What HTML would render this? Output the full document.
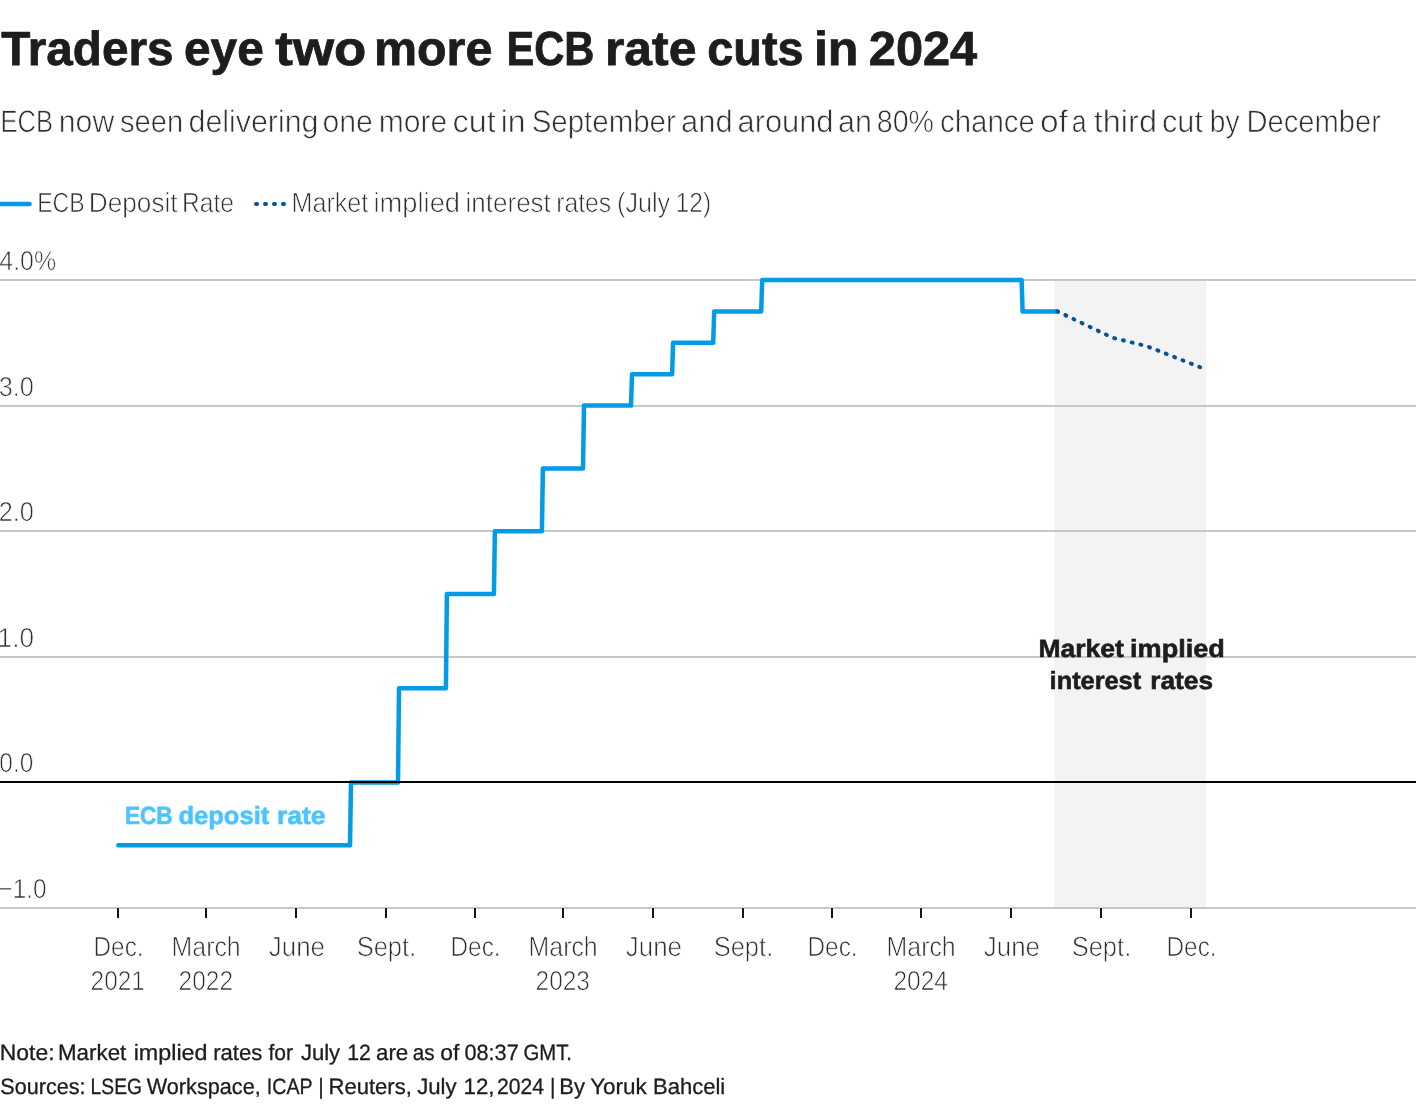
<!DOCTYPE html>
<html lang="en"><head><meta charset="utf-8"><title>Traders eye two more ECB rate cuts in 2024</title>
<style>
html,body{margin:0;padding:0;background:#fff;}
body{width:1420px;height:1108px;overflow:hidden;}
svg{display:block;font-family:"Liberation Sans",sans-serif;text-rendering:geometricPrecision;word-spacing:-0.06em;}
.t{font-weight:700;fill:#1d1d1b;stroke:#1d1d1b;stroke-width:0.8px;}
.tb{font-weight:700;fill:#4bc5ff;stroke:#4bc5ff;stroke-width:0.6px;}
.td{font-weight:700;fill:#1d1d1b;stroke:#1d1d1b;stroke-width:0.6px;}
.sub{fill:#303030;stroke:#fff;stroke-width:0.65px;}
.lt{fill:#2e2e2e;stroke:#fff;stroke-width:0.70px;}
.ft{fill:#1d1d1b;stroke:#1d1d1b;stroke-width:0.3px;}
</style></head><body>
<svg width="1420" height="1108" viewBox="0 0 1420 1108" role="img" aria-label="ECB deposit rate and market implied interest rates">
<rect width="1420" height="1108" fill="#fff"/>
<text y="65.40" font-size="47.90" class="t"><tspan x="1.30" textLength="172.16" lengthAdjust="spacingAndGlyphs">Traders</tspan> <tspan x="184.06" textLength="79.65" lengthAdjust="spacingAndGlyphs">eye</tspan> <tspan x="275.36" textLength="90.90" lengthAdjust="spacingAndGlyphs">two</tspan> <tspan x="373.95" textLength="118.41" lengthAdjust="spacingAndGlyphs">more</tspan> <tspan x="506.40" textLength="87.93" lengthAdjust="spacingAndGlyphs">ECB</tspan> <tspan x="604.93" textLength="91.48" lengthAdjust="spacingAndGlyphs">rate</tspan> <tspan x="707.35" textLength="96.25" lengthAdjust="spacingAndGlyphs">cuts</tspan> <tspan x="813.92" textLength="44.59" lengthAdjust="spacingAndGlyphs">in</tspan> <tspan x="868.79" textLength="108.42" lengthAdjust="spacingAndGlyphs">2024</tspan></text>
<text y="132.30" font-size="31.10" class="sub"><tspan x="0.44" textLength="52.54" lengthAdjust="spacingAndGlyphs">ECB</tspan> <tspan x="58.80" textLength="55.43" lengthAdjust="spacingAndGlyphs">now</tspan> <tspan x="120.00" textLength="63.25" lengthAdjust="spacingAndGlyphs">seen</tspan> <tspan x="188.50" textLength="129.97" lengthAdjust="spacingAndGlyphs">delivering</tspan> <tspan x="322.50" textLength="50.38" lengthAdjust="spacingAndGlyphs">one</tspan> <tspan x="378.82" textLength="68.47" lengthAdjust="spacingAndGlyphs">more</tspan> <tspan x="452.50" textLength="43.24" lengthAdjust="spacingAndGlyphs">cut</tspan> <tspan x="500.75" textLength="24.83" lengthAdjust="spacingAndGlyphs">in</tspan> <tspan x="531.65" textLength="144.20" lengthAdjust="spacingAndGlyphs">September</tspan> <tspan x="681.00" textLength="51.76" lengthAdjust="spacingAndGlyphs">and</tspan> <tspan x="737.50" textLength="95.99" lengthAdjust="spacingAndGlyphs">around</tspan> <tspan x="838.00" textLength="33.82" lengthAdjust="spacingAndGlyphs">an</tspan> <tspan x="876.75" textLength="57.21" lengthAdjust="spacingAndGlyphs">80%</tspan> <tspan x="940.00" textLength="94.86" lengthAdjust="spacingAndGlyphs">chance</tspan> <tspan x="1040.00" textLength="27.93" lengthAdjust="spacingAndGlyphs">of</tspan> <tspan x="1071.75" textLength="14.78" lengthAdjust="spacingAndGlyphs">a</tspan> <tspan x="1093.80" textLength="63.17" lengthAdjust="spacingAndGlyphs">third</tspan> <tspan x="1162.00" textLength="40.92" lengthAdjust="spacingAndGlyphs">cut</tspan> <tspan x="1209.81" textLength="29.70" lengthAdjust="spacingAndGlyphs">by</tspan> <tspan x="1246.50" textLength="134.43" lengthAdjust="spacingAndGlyphs">December</tspan></text>
<line x1="-3" y1="204" x2="29.5" y2="204" stroke="#039be5" stroke-width="4.5" stroke-linecap="round"/>
<text y="211.95" font-size="27.70" class="lt"><tspan x="37.18" textLength="47.40" lengthAdjust="spacingAndGlyphs">ECB</tspan> <tspan x="88.80" textLength="88.85" lengthAdjust="spacingAndGlyphs">Deposit</tspan> <tspan x="182.02" textLength="52.06" lengthAdjust="spacingAndGlyphs">Rate</tspan></text>
<line x1="256.0" y1="204" x2="284.2" y2="204" stroke="#01549a" stroke-width="4" stroke-linecap="round" stroke-dasharray="1 8"/>
<text y="211.95" font-size="27.70" class="lt"><tspan x="291.55" textLength="76.67" lengthAdjust="spacingAndGlyphs">Market</tspan> <tspan x="373.47" textLength="86.55" lengthAdjust="spacingAndGlyphs">implied</tspan> <tspan x="465.59" textLength="85.23" lengthAdjust="spacingAndGlyphs">interest</tspan> <tspan x="556.20" textLength="55.02" lengthAdjust="spacingAndGlyphs">rates</tspan> <tspan x="617.00" textLength="53.19" lengthAdjust="spacingAndGlyphs">(July</tspan> <tspan x="675.56" textLength="35.59" lengthAdjust="spacingAndGlyphs">12)</tspan></text>
<rect x="1054.4" y="280" width="151.6" height="627" fill="#f3f3f3"/>
<rect x="0" y="279" width="1416" height="2" fill="#c7c7c7"/>
<rect x="0" y="405" width="1416" height="2" fill="#c7c7c7"/>
<rect x="0" y="530" width="1416" height="2" fill="#c7c7c7"/>
<rect x="0" y="656" width="1416" height="2" fill="#c7c7c7"/>
<rect x="0" y="907" width="1416" height="2" fill="#c7c7c7"/>
<text x="-0.70" y="270.20" font-size="27.30" class="lt" textLength="56.86" lengthAdjust="spacingAndGlyphs">4.0%</text>
<text x="-1.30" y="396.30" font-size="27.30" class="lt" textLength="35.20" lengthAdjust="spacingAndGlyphs">3.0</text>
<text x="-1.30" y="521.30" font-size="27.30" class="lt" textLength="35.20" lengthAdjust="spacingAndGlyphs">2.0</text>
<text x="-2.39" y="647.30" font-size="27.30" class="lt" textLength="36.35" lengthAdjust="spacingAndGlyphs">1.0</text>
<text x="-0.65" y="772.30" font-size="27.30" class="lt" textLength="34.04" lengthAdjust="spacingAndGlyphs">0.0</text>
<text x="-1.46" y="898.20" font-size="27.30" class="lt" textLength="48.05" lengthAdjust="spacingAndGlyphs">−1.0</text>
<path d="M118.3 845.2 L350.0 845.2 L351.0 782.4 L398.0 782.4 L399.0 688.2 L445.9 688.2 L446.9 594.0 L493.9 594.0 L494.9 531.2 L541.9 531.2 L542.9 468.4 L583.0 468.4 L584.0 405.6 L631.0 405.6 L632.0 374.2 L672.1 374.2 L673.1 342.8 L713.2 342.8 L714.2 311.4 L761.2 311.4 L762.2 280.0 L1021.6 280.0 L1022.6 311.4 L1057.7 311.4" fill="none" stroke="#039be5" stroke-width="4.5" stroke-linejoin="round" stroke-linecap="round"/>
<rect x="0" y="781" width="1416" height="2" fill="#000"/>
<path d="M1057.2 311.3 L1112.5 337.7 L1146.9 346.2 L1200.6 367.4" fill="none" stroke="#01549a" stroke-width="4" stroke-linecap="round" stroke-dasharray="1 8"/>
<text y="823.60" font-size="24.85" class="tb"><tspan x="124.92" textLength="47.63" lengthAdjust="spacingAndGlyphs">ECB</tspan> <tspan x="178.47" textLength="90.78" lengthAdjust="spacingAndGlyphs">deposit</tspan> <tspan x="276.97" textLength="48.65" lengthAdjust="spacingAndGlyphs">rate</tspan></text>
<text y="657.00" font-size="24.85" class="td"><tspan x="1038.46" textLength="85.33" lengthAdjust="spacingAndGlyphs">Market</tspan> <tspan x="1130.10" textLength="94.68" lengthAdjust="spacingAndGlyphs">implied</tspan></text>
<text y="689.00" font-size="24.85" class="td"><tspan x="1049.64" textLength="91.51" lengthAdjust="spacingAndGlyphs">interest</tspan> <tspan x="1150.25" textLength="62.75" lengthAdjust="spacingAndGlyphs">rates</tspan></text>
<rect x="117" y="907" width="2" height="1" fill="#fff" opacity="0.6"/>
<rect x="117" y="908" width="2" height="10" fill="#161616"/>
<text x="93.54" y="956.25" font-size="27.70" class="lt" textLength="50.03" lengthAdjust="spacingAndGlyphs">Dec.</text>
<text x="90.60" y="990.20" font-size="27.30" class="lt" textLength="54.22" lengthAdjust="spacingAndGlyphs">2021</text>
<rect x="205" y="907" width="2" height="1" fill="#fff" opacity="0.6"/>
<rect x="205" y="908" width="2" height="10" fill="#161616"/>
<text x="171.57" y="956.25" font-size="27.70" class="lt" textLength="69.14" lengthAdjust="spacingAndGlyphs">March</text>
<text x="178.60" y="990.20" font-size="27.30" class="lt" textLength="54.40" lengthAdjust="spacingAndGlyphs">2022</text>
<rect x="295" y="907" width="2" height="1" fill="#fff" opacity="0.6"/>
<rect x="295" y="908" width="2" height="10" fill="#161616"/>
<text x="268.81" y="956.25" font-size="27.70" class="lt" textLength="56.18" lengthAdjust="spacingAndGlyphs">June</text>
<rect x="385" y="907" width="2" height="1" fill="#fff" opacity="0.6"/>
<rect x="385" y="908" width="2" height="10" fill="#161616"/>
<text x="356.70" y="956.25" font-size="27.70" class="lt" textLength="59.54" lengthAdjust="spacingAndGlyphs">Sept.</text>
<rect x="474" y="907" width="2" height="1" fill="#fff" opacity="0.6"/>
<rect x="474" y="908" width="2" height="10" fill="#161616"/>
<text x="450.54" y="956.25" font-size="27.70" class="lt" textLength="50.03" lengthAdjust="spacingAndGlyphs">Dec.</text>
<rect x="562" y="907" width="2" height="1" fill="#fff" opacity="0.6"/>
<rect x="562" y="908" width="2" height="10" fill="#161616"/>
<text x="528.57" y="956.25" font-size="27.70" class="lt" textLength="69.14" lengthAdjust="spacingAndGlyphs">March</text>
<text x="535.60" y="990.20" font-size="27.30" class="lt" textLength="54.38" lengthAdjust="spacingAndGlyphs">2023</text>
<rect x="652" y="907" width="2" height="1" fill="#fff" opacity="0.6"/>
<rect x="652" y="908" width="2" height="10" fill="#161616"/>
<text x="625.81" y="956.25" font-size="27.70" class="lt" textLength="56.18" lengthAdjust="spacingAndGlyphs">June</text>
<rect x="742" y="907" width="2" height="1" fill="#fff" opacity="0.6"/>
<rect x="742" y="908" width="2" height="10" fill="#161616"/>
<text x="713.70" y="956.25" font-size="27.70" class="lt" textLength="59.54" lengthAdjust="spacingAndGlyphs">Sept.</text>
<rect x="831" y="907" width="2" height="1" fill="#fff" opacity="0.6"/>
<rect x="831" y="908" width="2" height="10" fill="#161616"/>
<text x="807.54" y="956.25" font-size="27.70" class="lt" textLength="50.03" lengthAdjust="spacingAndGlyphs">Dec.</text>
<rect x="920" y="907" width="2" height="1" fill="#fff" opacity="0.6"/>
<rect x="920" y="908" width="2" height="10" fill="#161616"/>
<text x="886.57" y="956.25" font-size="27.70" class="lt" textLength="69.14" lengthAdjust="spacingAndGlyphs">March</text>
<text x="893.40" y="990.20" font-size="27.30" class="lt" textLength="54.55" lengthAdjust="spacingAndGlyphs">2024</text>
<rect x="1010" y="907" width="2" height="1" fill="#fff" opacity="0.6"/>
<rect x="1010" y="908" width="2" height="10" fill="#161616"/>
<text x="983.81" y="956.25" font-size="27.70" class="lt" textLength="56.18" lengthAdjust="spacingAndGlyphs">June</text>
<rect x="1100" y="907" width="2" height="1" fill="#fff" opacity="0.6"/>
<rect x="1100" y="908" width="2" height="10" fill="#161616"/>
<text x="1071.70" y="956.25" font-size="27.70" class="lt" textLength="59.54" lengthAdjust="spacingAndGlyphs">Sept.</text>
<rect x="1190" y="907" width="2" height="1" fill="#fff" opacity="0.6"/>
<rect x="1190" y="908" width="2" height="10" fill="#161616"/>
<text x="1166.54" y="956.25" font-size="27.70" class="lt" textLength="50.03" lengthAdjust="spacingAndGlyphs">Dec.</text>
<text y="1059.90" font-size="22.15" class="ft"><tspan x="-0.20" textLength="54.73" lengthAdjust="spacingAndGlyphs">Note:</tspan> <tspan x="58.00" textLength="68.31" lengthAdjust="spacingAndGlyphs">Market</tspan> <tspan x="133.65" textLength="73.87" lengthAdjust="spacingAndGlyphs">implied</tspan> <tspan x="213.16" textLength="49.18" lengthAdjust="spacingAndGlyphs">rates</tspan> <tspan x="268.44" textLength="24.53" lengthAdjust="spacingAndGlyphs">for</tspan> <tspan x="300.90" textLength="39.27" lengthAdjust="spacingAndGlyphs">July</tspan> <tspan x="347.35" textLength="23.57" lengthAdjust="spacingAndGlyphs">12</tspan> <tspan x="375.98" textLength="32.37" lengthAdjust="spacingAndGlyphs">are</tspan> <tspan x="412.75" textLength="21.83" lengthAdjust="spacingAndGlyphs">as</tspan> <tspan x="440.25" textLength="19.04" lengthAdjust="spacingAndGlyphs">of</tspan> <tspan x="464.50" textLength="54.21" lengthAdjust="spacingAndGlyphs">08:37</tspan> <tspan x="523.46" textLength="48.55" lengthAdjust="spacingAndGlyphs">GMT.</tspan></text>
<text y="1093.50" font-size="22.15" class="ft"><tspan x="0.33" textLength="85.19" lengthAdjust="spacingAndGlyphs">Sources:</tspan> <tspan x="90.61" textLength="51.36" lengthAdjust="spacingAndGlyphs">LSEG</tspan> <tspan x="146.76" textLength="113.95" lengthAdjust="spacingAndGlyphs">Workspace,</tspan> <tspan x="266.75" textLength="45.49" lengthAdjust="spacingAndGlyphs">ICAP</tspan> <tspan x="318.30" textLength="5.49" lengthAdjust="spacingAndGlyphs">|</tspan> <tspan x="328.50" textLength="83.35" lengthAdjust="spacingAndGlyphs">Reuters,</tspan> <tspan x="417.15" textLength="39.41" lengthAdjust="spacingAndGlyphs">July</tspan> <tspan x="463.53" textLength="31.05" lengthAdjust="spacingAndGlyphs">12,</tspan> <tspan x="496.96" textLength="47.02" lengthAdjust="spacingAndGlyphs">2024</tspan> <tspan x="550.00" textLength="5.49" lengthAdjust="spacingAndGlyphs">|</tspan> <tspan x="559.25" textLength="25.67" lengthAdjust="spacingAndGlyphs">By</tspan> <tspan x="590.17" textLength="56.68" lengthAdjust="spacingAndGlyphs">Yoruk</tspan> <tspan x="653.00" textLength="72.24" lengthAdjust="spacingAndGlyphs">Bahceli</tspan></text>
</svg></body></html>
